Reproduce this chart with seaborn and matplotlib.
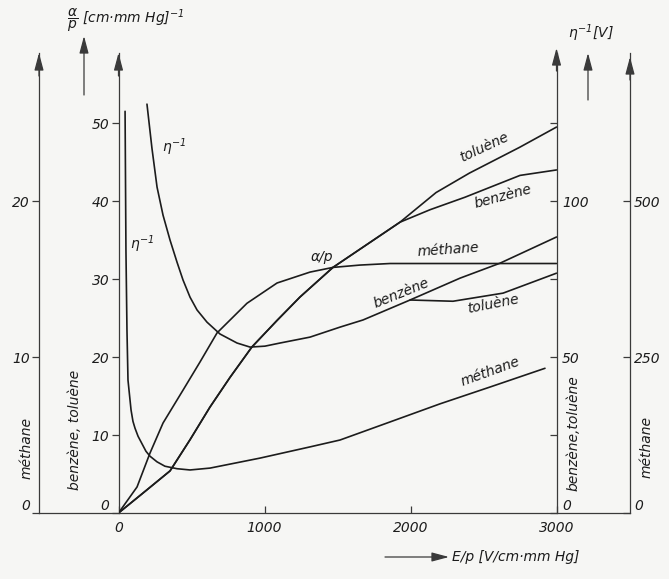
import matplotlib
matplotlib.use("Agg")
import matplotlib.pyplot as plt
import seaborn as sns

# ---- data: E/p in V/(cm mm Hg) ----
# Townsend coefficient alpha/p, methane, (cm mm Hg)^-1
E_ap_meth = [0, 127, 216, 305, 442, 558, 675, 880, 1086, 1312, 1469, 1654, 1860, 3000]
ap_meth = [0, 1.67, 3.85, 5.77, 7.88, 9.68, 11.55, 13.45, 14.75, 15.45, 15.75, 15.9, 16.0, 16.0]

# alpha/p, benzene and toluene (common branch, then separate tails)
E_ap_bt = [0, 168, 353, 490, 627, 764, 914, 1086, 1243, 1469, 1928]
ap_bt = [0, 2.56, 5.4, 9.4, 13.6, 17.4, 21.3, 24.7, 27.7, 31.5, 37.3]
E_ap_tol = [2175, 2404, 2747, 3000]
ap_tol = [41.1, 43.6, 46.9, 49.5]
E_ap_ben = [2134, 2373, 2750, 3000]
ap_ben = [38.9, 40.5, 43.3, 44.0]

# eta^-1 in V, benzene and toluene
E_eta_bt = [195, 229, 264, 305, 353, 401, 442, 490, 538, 606, 695, 812, 901, 1003,
            1106, 1312, 1517, 1675, 1997]
eta_bt = [131.1, 117.0, 104.5, 95.5, 87.5, 80.4, 74.7, 69.2, 65.1, 61.2, 57.4, 54.5,
          53.2, 53.5, 54.5, 56.4, 59.6, 61.9, 68.3]
E_eta_ben = [2339, 2613, 3000]
eta_ben = [75.3, 80.1, 88.5]
E_eta_tol = [2291, 2634, 3000]
eta_tol = [67.9, 70.5, 76.9]

# eta^-1 in V, methane
E_eta_meth = [45, 51, 58, 65, 79, 86, 99, 113, 134, 161, 188, 216, 264, 318, 401, 490,
              627, 798, 969, 1312, 1517, 1860, 2202, 2545, 2921]
eta_meth = [644, 421, 293, 213, 181, 165, 147, 136, 123, 111, 99, 91, 82, 75, 71, 69,
            72, 80, 88, 106, 117, 146, 175, 202, 232]

# axis ticks
x_ticks = [0, 1000, 2000, 3000]
ap_bt_ticks = [0, 10, 20, 30, 40, 50]
ap_meth_ticks = [0, 10, 20]
eta_bt_ticks = [0, 25, 50, 75, 100, 125]
eta_bt_labels = ["0", "", "50", "", "100", ""]
eta_meth_ticks = [0, 250, 500]

# ---- style ----
sns.set_style("ticks")
ink = "#1c1c1c"
paper = "#f6f6f4"
plt.rcParams.update({
    "font.family": ["DejaVu Sans"],
    "font.style": "italic",
    "font.size": 10,
    "mathtext.fontset": "dejavusans",
    "mathtext.default": "it",
    "text.color": ink,
    "axes.edgecolor": "#3a3a3a",
    "xtick.color": "#3a3a3a",
    "ytick.color": "#3a3a3a",
    "xtick.labelcolor": ink,
    "ytick.labelcolor": ink,
})

W, H = 669, 579
fig = plt.figure(figsize=(W / 100, H / 100), dpi=100, facecolor=paper)

x0, x1, yb, yt = 118.5, 556.5, 513, 53
ax = fig.add_axes([x0 / W, 1 - yb / H, (x1 - x0) / W, (yb - yt) / H])
ax.set_facecolor("none")
ax_am = ax.twinx()
ax_eb = ax.twinx()
ax_em = ax.twinx()
for a in (ax_am, ax_eb, ax_em):
    a.set_facecolor("none")

ymax = 59.0
ax.set_xlim(0, 3000)
ax.set_ylim(0, ymax)
ax_am.set_ylim(0, ymax / 2)
ax_eb.set_ylim(0, ymax * 2.5)
ax_em.set_ylim(0, ymax * 12.5)

lw = 1.2
kw = dict(color=ink, linewidth=lw, sort=False, estimator=None, legend=False)
sns.lineplot(x=E_ap_meth, y=ap_meth, ax=ax_am, **kw)
sns.lineplot(x=E_ap_bt + E_ap_tol, y=ap_bt + ap_tol, ax=ax, **kw)
sns.lineplot(x=E_ap_bt + E_ap_ben, y=ap_bt + ap_ben, ax=ax, **kw)
sns.lineplot(x=E_eta_bt + E_eta_ben, y=eta_bt + eta_ben, ax=ax_eb, **kw)
sns.lineplot(x=E_eta_bt[-1:] + E_eta_tol, y=eta_bt[-1:] + eta_tol, ax=ax_eb, **kw)
sns.lineplot(x=E_eta_meth, y=eta_meth, ax=ax_em, **kw)
for a in (ax, ax_am, ax_eb, ax_em):
    a.set_xlabel("")
    a.set_ylabel("")

# ---- spines ----
for a in (ax, ax_am, ax_eb, ax_em):
    for s in a.spines.values():
        s.set_visible(False)
        s.set_linewidth(0.9)

ax.spines["left"].set_visible(True)
ax.spines["bottom"].set_visible(True)
ax.spines["bottom"].set_bounds(-545, 3503)

ax_am.yaxis.tick_left()
ax_am.spines["left"].set_visible(True)
ax_am.spines["left"].set_position(("axes", (39 - x0) / (x1 - x0)))

ax_eb.spines["right"].set_visible(True)
ax_em.spines["right"].set_visible(True)
ax_em.spines["right"].set_position(("axes", (630 - x0) / (x1 - x0)))

# ---- ticks ----
ax.set_xticks(x_ticks)
ax.tick_params(axis="x", direction="in", length=5, width=0.9, pad=6)
ax.set_yticks(ap_bt_ticks)
ax.tick_params(axis="y", direction="out", length=5, width=0.9, pad=1.5)
ax_am.set_yticks(ap_meth_ticks)
ax_am.tick_params(axis="y", direction="out", length=5, width=0.9, pad=1.5)
ax_eb.set_yticks(eta_bt_ticks, labels=eta_bt_labels)
ax_eb.tick_params(axis="y", direction="in", length=5, width=0.9, pad=4)
ax_em.set_yticks(eta_meth_ticks)
ax_em.tick_params(axis="y", direction="in", length=5, width=0.9, pad=3)
for a in (ax_am, ax_eb, ax_em):
    a.tick_params(axis="x", bottom=False, labelbottom=False)
for a in (ax, ax_am, ax_eb, ax_em):
    for lbl in a.get_yticklabels():
        if lbl.get_text() == "0":
            lbl.set_verticalalignment("bottom")

# arrow heads on the vertical axes
head = dict(arrowstyle="-|>,head_length=0.75,head_width=0.2", color="#3a3a3a",
            lw=0.9, shrinkA=0, shrinkB=0, mutation_scale=14)
for xf, tip in [((39 - x0) / (x1 - x0), 1.0), (0.0, 1.0),
                (1.0, (yb - 48) / (yb - yt)), ((630 - x0) / (x1 - x0), (yb - 57) / (yb - yt))]:
    ax.annotate("", xy=(xf, tip), xytext=(xf, tip - 0.05), xycoords="axes fraction",
                arrowprops=head, annotation_clip=False)


def fp(px, py):
    return px / W, 1 - py / H


# quantity arrows next to the axis titles
for (ax_, ay_), (bx_, by_) in [((84, 95), (84, 36)), ((588, 100), (588, 53)),
                               ((385, 557), (449, 557))]:
    ax.annotate("", xy=fp(bx_, by_), xytext=fp(ax_, ay_), xycoords="figure fraction",
                arrowprops=head, annotation_clip=False)

# ---- titles and axis descriptions ----
fig.text(*fp(67, 20), r"$\dfrac{\alpha}{p}$ [cm·mm Hg]$^{-1}$", ha="left", va="center",
         fontsize=10)
fig.text(*fp(591, 33), r"$\eta^{-1}$[V]", ha="center", va="center", fontsize=10)
fig.text(*fp(452, 557), "E/p [V/cm·mm Hg]", ha="left", va="center", fontsize=10)
fig.text(*fp(27, 448), "méthane", rotation=90, ha="center", va="center", fontsize=10)
fig.text(*fp(75, 430), "benzène, toluène", rotation=90, ha="center", va="center", fontsize=10)
fig.text(*fp(573, 433), "benzène,toluène", rotation=90, ha="center", va="center", fontsize=10)
fig.text(*fp(647, 447), "méthane", rotation=90, ha="center", va="center", fontsize=10)

# ---- curve labels (main data coordinates) ----
curve_labels = [
    ("toluène", 2503, 46.9, 25),
    ("benzène", 2634, 40.6, 15),
    ("méthane", 2257, 33.7, 4),
    ("α/p", 1394, 32.8, 0),
    ("benzène", 1935, 28.2, 22),
    ("toluène", 2565, 26.8, 11),
    ("méthane", 2545, 18.1, 20),
    (r"$\eta^{-1}$", 380, 46.9, 0),
    (r"$\eta^{-1}$", 161, 34.5, 0),
]
for txt, xx, yy, rot in curve_labels:
    ax.text(xx, yy, txt, rotation=rot, ha="center", va="center", fontsize=10,
            rotation_mode="anchor")

fig.savefig("out.png", dpi=100, facecolor=paper)
